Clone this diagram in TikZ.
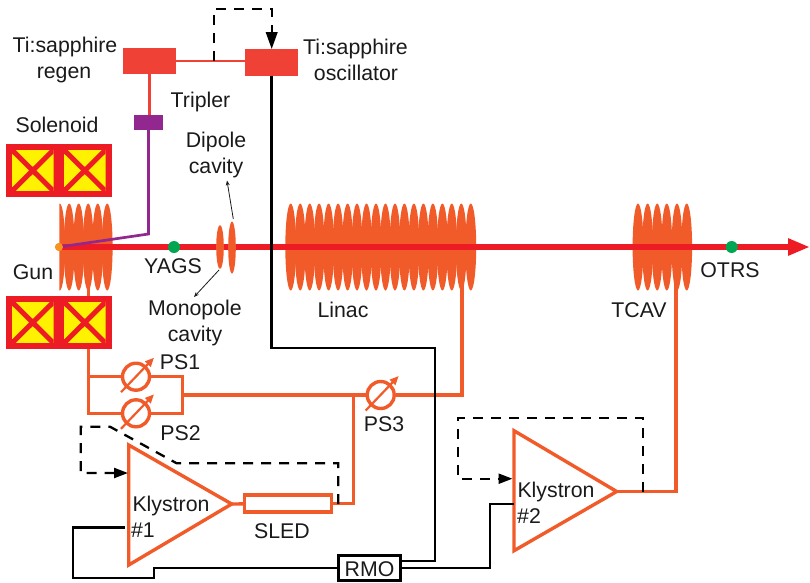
\documentclass[tikz,border=0pt]{standalone}
\usepackage{fontspec}
\setmainfont{Liberation Sans}
\usetikzlibrary{arrows.meta}
\definecolor{rfor}{HTML}{F15A29}
\definecolor{beamred}{HTML}{ED1C24}
\definecolor{laser}{HTML}{EF4136}
\definecolor{tripl}{HTML}{92278F}
\definecolor{magy}{HTML}{FFF200}
\definecolor{scr}{HTML}{00A651}
\definecolor{cath}{HTML}{F7941D}
\definecolor{txt}{HTML}{1A1A1A}
\tikzset{
  lbl/.style={anchor=base,inner sep=0pt,text=txt,font=\fontsize{21.3}{24}\selectfont},
  lasersq/.style={fill=laser,inner sep=0pt,minimum width=53pt,minimum height=26.5pt},
  rfline/.style={draw=rfor,line width=3.4pt},
  blk/.style={draw=black,line width=2.5pt},
  dsh/.style={draw=black,line width=2.3pt,dash pattern=on 10pt off 8pt},
  dshtip/.style={draw=black,line width=2.3pt,solid,-{Triangle[length=14pt,width=10pt]}},
  bigtip/.style={draw=black,line width=2.3pt,solid,-{Triangle[length=17pt,width=11.5pt]}},
  thin arrow/.style={draw=txt,line width=0.8pt,-{Stealth[length=5pt,width=4pt]}},
  phase/.style={circle,draw=rfor,line width=3.4pt,minimum size=27pt,inner sep=0pt},
  phasearrow/.style={draw=rfor,line width=2.2pt,-{Triangle[length=9pt,width=7.5pt]}},
  sdot/.style={circle,fill=scr,inner sep=0pt,minimum size=12pt},
  cell/.style={fill=rfor},
}
\newcommand{\cellrow}[2]{\foreach \cx in {#1}{\fill[cell] (\cx,#2) ellipse [x radius=5.4pt,y radius=43.5pt];}}
\newcommand{\solenoid}[1]{%
  \fill[beamred] (6,#1) rectangle (112,#1+53);
  \foreach \sx in {12,64}{%
    \begin{scope}
      \clip (\sx,#1+6) rectangle (\sx+41.5,#1+47);
      \fill[magy] (\sx,#1+6) rectangle (\sx+41.5,#1+47);
      \draw[beamred,line width=5pt] (\sx,#1+6) -- (\sx+41.5,#1+47);
      \draw[beamred,line width=5pt] (\sx+41.5,#1+6) -- (\sx,#1+47);
    \end{scope}}}
\begin{document}
\begin{tikzpicture}[x=1pt,y=-1pt]
\useasboundingbox (0,0) rectangle (810,582);
% named points
\coordinate (k1a) at (128.7,445);
\coordinate (k1b) at (128.7,565);
\coordinate (k1tip) at (231.7,504);
\coordinate (k2a) at (514,430.7);
\coordinate (k2b) at (514,550.7);
\coordinate (k2tip) at (616.7,491.5);
\coordinate (gunfeed) at (88.5,247);
\coordinate (linfeed) at (462,270);
\coordinate (tcavfeed) at (676,270);
\coordinate (beamend) at (810,247);
\coordinate (psleft) at (88.7,349);
\coordinate (psright) at (182.7,395);
\coordinate (sledtee) at (353.7,395);
\coordinate (k1in) at (125,527.7);
\coordinate (k2in) at (514,504);
\coordinate (k1dsh) at (338.3,504);
\coordinate (k2dsh) at (642.7,491.5);
\coordinate (oscdsh) at (214,61);
% cavities
\begin{scope}
\clip (59.3,190) rectangle (130,300);
\cellrow{59.7,69.2,78.7,88.2,97.7,107.2}{247}
\end{scope}
\cellrow{290.7,300.2,309.7,319.1,328.6,338.1,347.6,357,366.5,376,385.5,395,404.4,413.9,423.4,432.9,442.4,451.8,461.3,470.8}{247}
\cellrow{638,647.6,657.2,666.8,677,686.7}{247}
% solenoids
\solenoid{144}
\solenoid{296}
% nodes
\node[lasersq] (regen) at (149.5,61) {};
\node[lasersq] (osc) at (271.7,62.5) {};
\node[fill=tripl,inner sep=0pt,minimum width=29pt,minimum height=15pt] (tripler) at (148.5,122.5) {};
\node[circle,fill=cath,inner sep=0pt,minimum size=8pt] (cathode) at (59,247) {};
\node[phase] (ps1) at (136,376.7) {};
\node[phase] (ps2) at (136,413.3) {};
\node[phase] (ps3) at (380.7,395) {};
\node[draw=rfor,line width=3.4pt,fill=white,inner sep=0pt,minimum width=87pt,minimum height=17pt] (sled) at (288,503.5) {};
\node[draw=black,line width=2.6pt,fill=white,inner sep=0pt,minimum width=62pt,minimum height=24.5pt] (rmo) at (369.3,568) {};
% rf lines
\draw[rfline] (gunfeed) -- (gunfeed |- 0,296);
\draw[rfline] (psleft) -- (psleft |- ps2) -- (ps2);
\draw[rfline] (psleft |- ps1) -- (ps1);
\draw[rfline] (ps1) -| (psright) |- (ps2);
\draw[rfline] (psright) -- (ps3);
\draw[rfline] (ps3) -| (linfeed);
\draw[rfline] (k1tip) -- (sled);
\draw[rfline] (sled.east) -| (sledtee);
\draw[rfline,line join=miter] (k1a) -- (k1tip) -- (k1b) -- cycle;
\draw[rfline,line join=miter] (k2a) -- (k2tip) -- (k2b) -- cycle;
\draw[rfline] (k2tip) -| (tcavfeed);
% beam
\draw[beamred,line width=6pt,-{Triangle[length=22pt,width=16pt]}] (cathode.center) -- (beamend);
\node[sdot] (yags) at (174,247) {};
\node[sdot] (otrs) at (731.7,247) {};
\fill[cell] (220,247) ellipse [x radius=3.8pt,y radius=22pt];
\fill[cell] (232,247.5) ellipse [x radius=3.8pt,y radius=26pt];
\coordinate (dipolecell) at (233.3,219);
\coordinate (dipolelabel) at (227,180.5);
\coordinate (monocell) at (219,270);
\coordinate (monolabel) at (194,297);
\draw[thin arrow] (dipolecell) -- (dipolelabel);
\draw[thin arrow] (monocell) -- (monolabel);
% phase-shifter arrows
\foreach \p in {ps1,ps2,ps3}{\draw[phasearrow] ([shift={(-15,15.5)}]\p.center) -- ([shift={(18,-19)}]\p.center);}
% laser
\draw[draw=laser,line width=2.7pt] (regen.east) -- (regen.east -| osc.west);
\draw[draw=laser,line width=2.7pt] (regen.south) -- (regen.south |- tripler.north);
\draw[draw=tripl,line width=2.7pt,line join=miter] (tripler.south) -- (148.5,234) -- (cathode.center);
\node[circle,fill=cath,inner sep=0pt,minimum size=8pt] at (cathode) {};
% black timing lines
\draw[blk,line join=miter] (osc.south) -- (osc.south |- 0,348) -- (435,348) -- (435,561) -- (rmo.east |- 0,561);
\draw[blk,line join=miter] (rmo.west) -- (154,568) -- (154,578) -- (73,578) -- (73,527.7) -- (k1in);
\draw[blk,line join=miter] (rmo.east) -- (490,568) -- (490,504) -- (k2in);
% dashed feedback
\coordinate (t0) at (271.7,31);
\coordinate (t1) at (114,473);
\coordinate (t2) at (498.5,478.7);
\draw[dsh] (oscdsh) -- (214,9) -- (271.7,9) -- (t0);
\draw[bigtip] (t0) -- (osc.north);
\draw[dsh] (k1dsh) -- (338.3,463.3) -- (176.7,463.3) -- (110,426.7) -- (80.7,426.7) -- (80.7,473) -- (t1);
\draw[dshtip] (t1) -- (128,473);
\draw[dsh] (k2dsh) -- (642.7,417.7) -- (457.7,417.7) -- (457.7,478.7) -- (t2);
\draw[dshtip] (t2) -- (512.5,478.7);
% labels
\node[lbl] (l1) at (65,52) {Ti:sapphire};
\node[lbl] (l2) at (64,78) {regen};
\node[lbl] (l3) at (355.5,54) {Ti:sapphire};
\node[lbl] (l4) at (356,80) {oscillator};
\node[lbl] (l5) at (200.5,107) {Tripler};
\node[lbl] (l6) at (57,132) {Solenoid};
\node[lbl] (l7) at (216,147) {Dipole};
\node[lbl] (l8) at (216,173) {cavity};
\node[lbl] (l9) at (33,279) {Gun};
\node[lbl] (l10) at (173,273) {YAGS};
\node[lbl] (l11) at (195,315) {Monopole};
\node[lbl] (l12) at (195,341) {cavity};
\node[lbl] (l13) at (343,317) {Linac};
\node[lbl] (l14) at (639,317) {TCAV};
\node[lbl] (l15) at (730,277) {OTRS};
\node[lbl] (l16) at (180,369) {PS1};
\node[lbl] (l17) at (180.5,440) {PS2};
\node[lbl] (l18) at (384,431) {PS3};
\node[lbl] (l19) at (171,511) {Klystron};
\node[lbl] (l20) at (143,537) {\#1};
\node[lbl] (l21) at (282,538) {SLED};
\node[lbl] (l22) at (369.5,576) {RMO};
\node[lbl] (l23) at (556,497) {Klystron};
\node[lbl] (l24) at (529,523) {\#2};
\end{tikzpicture}
\end{document}
